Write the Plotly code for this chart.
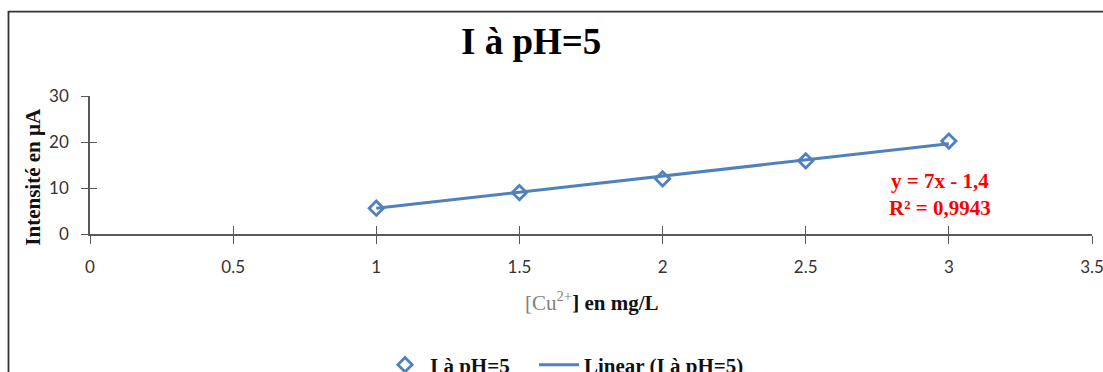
import plotly.graph_objects as go

# Data
conc = [1, 1.5, 2, 2.5, 3]
intensity = [5.6, 9.0, 12.0, 15.9, 20.2]
trend_slope = 7
trend_intercept = -1.4
trend_x = [1, 3]
x_ticks = [0, 0.5, 1, 1.5, 2, 2.5, 3, 3.5]
x_tick_text = ["0", "0.5", "1", "1.5", "2", "2.5", "3", "3.5"]
y_ticks = [0, 10, 20, 30]

BLUE = "#4F81BD"
AX = "#595959"
SERIF = "Liberation Serif, Times New Roman, serif"
SANS = "Lato, Open Sans, sans-serif"

trend_y = [trend_slope * x + trend_intercept for x in trend_x]

fig = go.Figure()
fig.add_trace(go.Scatter(
    x=trend_x, y=trend_y, mode="lines", name="Linear (I à pH=5)",
    line=dict(color=BLUE, width=3), legend="legend2",
))
fig.add_trace(go.Scatter(
    x=conc, y=intensity, mode="markers", name="I à pH=5",
    marker=dict(symbol="diamond-open", size=11, color=BLUE, line=dict(width=2.8, color=BLUE)),
    xaxis="x2", yaxis="y2", cliponaxis=False, legend="legend",
))

L, R, T, B = 90, 11, 96, 137.5
W, H = 1103, 372
pw = W - L - R
ph = H - T - B

def px_x(p):
    return (p - L) / pw

def px_y(p):
    return (H - B - p) / ph

legend_font = dict(family=SERIF, size=21, color="#111111", weight="bold")
axis_common = dict(showgrid=False, zeroline=False, automargin=False)
fig.update_layout(
    width=W, height=H,
    margin=dict(l=L, r=R, t=T, b=B, pad=0, autoexpand=False),
    paper_bgcolor="white", plot_bgcolor="white",
    showlegend=True,
    xaxis=dict(range=[0, 3.5], tickvals=x_ticks, ticktext=x_tick_text,
               ticks="outside", ticklen=8, tickwidth=1.3, tickcolor=AX,
               showline=True, linecolor=AX, linewidth=1.5,
               tickfont=dict(family=SANS, size=17, color="#333333"),
               ticklabelstandoff=9, ticklabeloverflow="allow", **axis_common),
    yaxis=dict(range=[0, 30], tickvals=y_ticks,
               ticks="outside", ticklen=7, tickwidth=1.3, tickcolor=AX,
               showline=True, linecolor=AX, linewidth=1.5,
               tickfont=dict(family=SANS, size=17, color="#333333"),
               ticklabelstandoff=9, **axis_common),
    xaxis2=dict(range=[0, 3.5], tickvals=x_ticks, overlaying="x", anchor="y2",
                ticks="inside", ticklen=8, tickwidth=1.3, tickcolor=AX,
                showticklabels=False, showline=False, **axis_common),
    yaxis2=dict(range=[0, 30], tickvals=y_ticks, overlaying="y", anchor="x2",
                ticks="inside", ticklen=7, tickwidth=1.3, tickcolor=AX,
                showticklabels=False, showline=False, **axis_common),
    legend=dict(orientation="h", x=px_x(380), xanchor="left", y=px_y(366), yanchor="middle",
                font=legend_font, bgcolor="rgba(0,0,0,0)", itemwidth=40),
    legend2=dict(orientation="h", x=px_x(534), xanchor="left", y=px_y(366), yanchor="middle",
                 font=legend_font, bgcolor="rgba(0,0,0,0)", itemwidth=40),
)

# outer chart border (extends beyond the visible window on right/bottom)
fig.add_shape(type="rect", xref="paper", yref="paper",
              x0=px_x(8.5), x1=px_x(1130), y0=px_y(400), y1=px_y(11.3),
              line=dict(color="#333333", width=1.8), fillcolor="rgba(0,0,0,0)", layer="below")

fig.add_annotation(text="<b>I à pH=5</b>", xref="paper", yref="paper",
                   x=px_x(531), y=px_y(41), xanchor="center", yanchor="middle",
                   showarrow=False, font=dict(family=SERIF, size=37, color="#000000"))
fig.add_annotation(text="<b>Intensité en µA</b>", xref="paper", yref="paper",
                   x=px_x(33), y=px_y(177), xanchor="center", yanchor="middle", textangle=-90,
                   showarrow=False, font=dict(family=SERIF, size=21, color="#111111"))
fig.add_annotation(text="<span style='color:#7f7f7f'>[Cu<sup>2+</sup></span><b>] en mg/L</b>",
                   xref="paper", yref="paper",
                   x=px_x(591), y=px_y(302), xanchor="center", yanchor="middle",
                   showarrow=False, font=dict(family=SERIF, size=21, color="#111111"))
fig.add_annotation(text="<b>y = 7x - 1,4<br>R² = 0,9943</b>", xref="paper", yref="paper",
                   x=px_x(940), y=px_y(195), xanchor="center", yanchor="middle",
                   showarrow=False, align="center",
                   font=dict(family=SERIF, size=21, color="#FF0000"))

fig.write_html("out.html")
